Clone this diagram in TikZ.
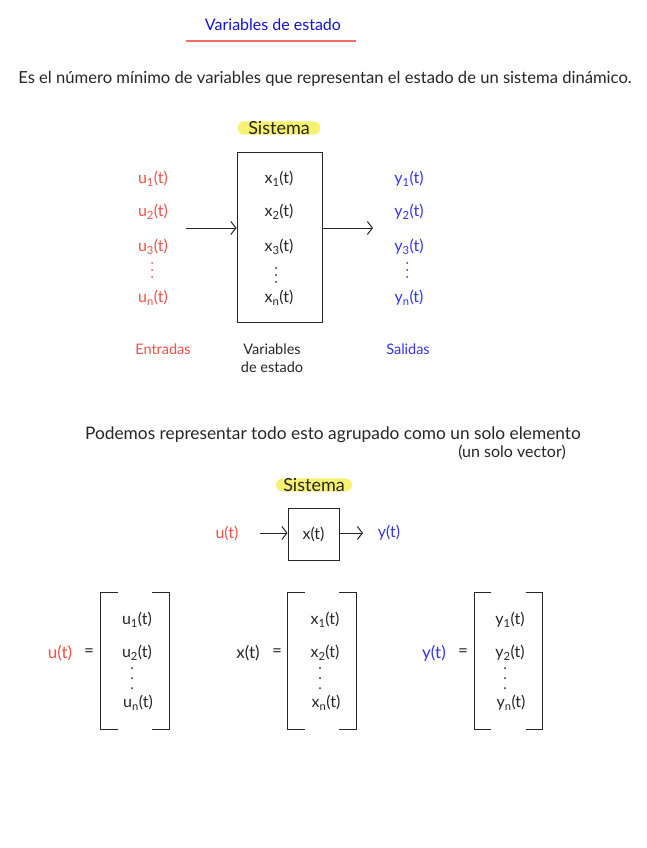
\documentclass[tikz,border=0pt]{standalone}
\usepackage{fontspec}
\setmainfont{Lato}
\usetikzlibrary{arrows.meta, positioning}

\definecolor{rojo}{RGB}{240,82,72}
\definecolor{azul}{RGB}{52,52,240}
\definecolor{azuloscuro}{RGB}{20,20,215}
\definecolor{amarillo}{RGB}{247,241,112}
\definecolor{tinta}{RGB}{38,38,38}

\tikzset{
    texto/.style={font=\fontsize{16}{19}\selectfont, text=tinta, inner sep=0pt},
    rotulo/.style={texto, font=\fontsize{14.5}{18}\selectfont},
    resaltado/.style={texto, font=\fontsize{18}{20}\selectfont, fill=amarillo, rounded corners=7pt},
    caja/.style={texto, draw=tinta, line width=1pt},
    flecha/.style={draw=tinta, line width=1pt, -{Straight Barb[length=5pt, width=13pt]}},
    corchete/.style={draw=tinta, line width=1.2pt}
}

\begin{document}
\begin{tikzpicture}[x=1pt, y=-1pt]

    \useasboundingbox[fill=white] (0,0) rectangle (646,848);

    \node[texto, text=azuloscuro] (titulo) at (273,25) {Variables de estado};
    \coordinate (raya1) at (186,41);
    \coordinate (raya2) at (356,41);
    \draw[rojo!85, line width=1.4pt] (raya1) -- (raya2);

    \node[texto, font=\fontsize{16.6}{19}\selectfont] (definicion) at (325,79)
        {Es el número mínimo de variables que representan el estado de un sistema dinámico.};

    \node[resaltado, minimum width=83pt, minimum height=13pt] (sistema1) at (279,128) {Sistema};

    \node[caja, minimum width=85pt, minimum height=170pt] (bloque) at (279.5,237) {};

    \foreach \i/\y in {
        1/179,
        2/212,
        3/247,
        n/298%
    } {
        \node[texto, text=rojo] (u\i) at (153,\y) {u\textsubscript{\i}(t)};
        \node[texto] (x\i) at (279,\y) {x\textsubscript{\i}(t)};
        \node[texto, text=azul] (y\i) at (409,\y) {y\textsubscript{\i}(t)};
    }
    \foreach \d in {0,7,14} {
        \fill[rojo] (152,263+\d) circle (1pt);
        \fill[tinta] (276,268+\d) circle (1pt);
        \fill[azul] (407,263+\d) circle (1pt);
    }

    \coordinate (entrada) at (186,228);
    \coordinate (salida) at (373,228);
    \draw[flecha] (entrada) -- (bloque.west |- entrada);
    \draw[flecha] (bloque.east |- salida) -- (salida);

    \node[rotulo, text=rojo] (entradas) at (163,349) {Entradas};
    \node[rotulo, align=center] (estados) at (272,358) {Variables\\de estado};
    \node[rotulo, text=azul] (salidas) at (408,349) {Salidas};

    \node[texto, font=\fontsize{17.3}{20}\selectfont] (agrupado) at (333,435)
        {Podemos representar todo esto agrupado como un solo elemento};
    \node[texto, font=\fontsize{16}{19}\selectfont] (vector) at (512,452) {(un solo vector)};

    \node[resaltado, minimum width=76pt, minimum height=13pt] (sistema2) at (314,485) {Sistema};

    \node[caja, minimum width=51pt, minimum height=52pt] (bloque2) at (313.5,534) {x(t)};
    \node[texto, text=rojo] (u) at (227,533) {u(t)};
    \node[texto, text=azul] (y) at (389,533) {y(t)};
    \coordinate (entrada2) at (260,533);
    \coordinate (salida2) at (363,533);
    \draw[flecha] (entrada2) -- (bloque2.west |- entrada2);
    \draw[flecha] (bloque2.east |- salida2) -- (salida2);

    \foreach \v/\cx/\lx/\ex/\tono in {
        u/135/60/137/rojo,
        x/322/248/325/tinta,
        y/508.5/434/510/azul%
    } {
        \node[texto, font=\fontsize{17}{19}\selectfont, text=\tono] (vec\v) at (\lx,653) {\v(t)};
        \node[texto, font=\fontsize{17}{19}\selectfont] (igual\v) at (\lx+29,653) {=};
        \node[minimum width=68pt, minimum height=136pt, inner sep=0pt] (mat\v) at (\cx,661) {};
        \draw[corchete] ([xshift=17pt]mat\v.north west) -- (mat\v.north west) -- (mat\v.south west) -- ++(17,0);
        \draw[corchete] ([xshift=-17pt]mat\v.north east) -- (mat\v.north east) -- (mat\v.south east) -- ++(-17,0);
        \node[texto] (\v1) at (\ex,620) {\v\textsubscript{1}(t)};
        \node[texto] (\v2) at (\ex,653) {\v\textsubscript{2}(t)};
        \foreach \d in {668,678,688} {
            \fill[tinta] (\ex-5,\d) circle (1pt);
        }
        \node[texto] (\v n) at (\ex+1,703) {\v\textsubscript{n}(t)};
    }

\end{tikzpicture}
\end{document}
